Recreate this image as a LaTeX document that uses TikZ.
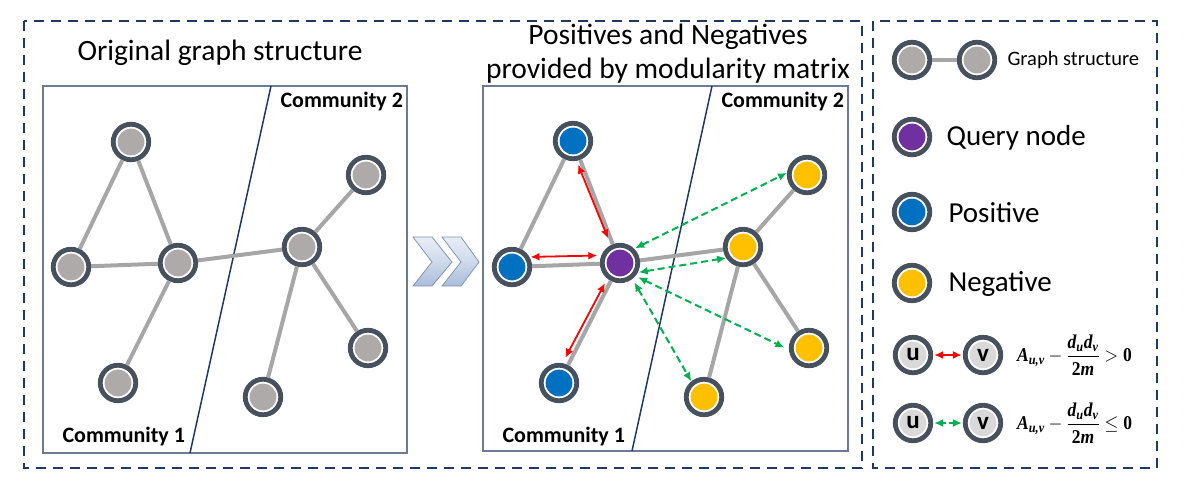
\documentclass[tikz,border=0pt]{standalone}
\usepackage{amsmath}
\usepackage{fontspec}
\setmainfont{Carlito}
\newfontfamily\fmlfont{Liberation Serif}
\usetikzlibrary{arrows.meta,calc}
\definecolor{ring}{HTML}{46515D}
\definecolor{gfill}{HTML}{AEAAAA}
\definecolor{bfill}{HTML}{0070C0}
\definecolor{pfill}{HTML}{7030A0}
\definecolor{yfill}{HTML}{FFC000}
\definecolor{ufill}{HTML}{D9D9D9}
\definecolor{edgec}{HTML}{A6A6A6}
\definecolor{navy}{HTML}{1F3864}
\definecolor{boxc}{HTML}{6B7B95}
\definecolor{redc}{HTML}{FF0000}
\definecolor{greenc}{HTML}{00B050}
\definecolor{chevA}{HTML}{E8EEF7}
\definecolor{chevB}{HTML}{A9BCD8}
\definecolor{chevL}{HTML}{7F96B8}
\newcommand{\fbi}[1]{\text{\fmlfont\bfseries\itshape #1}}
\newcommand{\fbu}[1]{\text{\fmlfont\bfseries #1}}
\newsavebox{\fposbox}
\newsavebox{\fnegbox}
\tikzset{
  gnode/.style={circle, draw=ring, line width=4.8pt, fill=white, inner sep=0pt,
    minimum size=35.5pt,
    path picture={\fill[#1] (path picture bounding box.center) circle (13.4pt);}},
  gnode/.default=gfill,
  unode/.style={circle, draw=ring, line width=4.8pt, fill=white, inner sep=0pt,
    minimum size=35.5pt, font=\fontsize{25}{25}\selectfont\bfseries,
    path picture={\fill[ufill] (path picture bounding box.center) circle (13.4pt);}},
  gedge/.style={draw=edgec, line width=4pt},
  dashbox/.style={draw=navy, line width=2.6pt, dash pattern=on 10pt off 7pt},
  innerbox/.style={draw=boxc, line width=1.4pt},
  divider/.style={draw=navy, line width=1.5pt},
  redarr/.style={draw=redc, line width=1.8pt, {Latex[length=9pt,width=8pt]}-{Latex[length=9pt,width=8pt]}},
  greenarr/.style={draw=greenc, line width=2pt, dash pattern=on 7pt off 4pt, {Latex[length=9pt,width=8pt]}-{Latex[length=9pt,width=8pt]}},
  titletext/.style={font=\fontsize{29.5}{34}\selectfont, align=center},
  comm/.style={font=\fontsize{22}{22}\selectfont\bfseries},
  legtext/.style={font=\fontsize{29}{29}\selectfont, anchor=west},
  fbox/.style={anchor=west, inner sep=0pt, xscale=1.03, yscale=1.15},
  chev/.style={draw=chevL, line width=0.8pt, top color=chevA, bottom color=chevB, middle color=chevA!60!chevB},
}
\begin{document}
\sbox{\fposbox}{\fontsize{17}{20}\selectfont$\displaystyle \fbi{A}_{\fbi{u,v}}-\frac{\fbi{d}_{\fbi{u}}\fbi{d}_{\fbi{v}}}{\fbu{2}\fbi{m}}>\fbu{0}$}%
\sbox{\fnegbox}{\fontsize{17}{20}\selectfont$\displaystyle \fbi{A}_{\fbi{u,v}}-\frac{\fbi{d}_{\fbi{u}}\fbi{d}_{\fbi{v}}}{\fbu{2}\fbi{m}}\leq\fbu{0}$}%
\begin{tikzpicture}[x=1pt,y=-1pt]
\useasboundingbox (0,0) rectangle (1190,486);
% dashed frames
\draw[dashbox] (24,21) rectangle (862,468);
\draw[dashbox] (873,21) rectangle (1157,468);
% titles
\node[titletext] (t1) at (220,53) {Original graph structure};
\node[titletext] (t2) at (668,54) {Positives and Negatives\\provided by modularity matrix};
% inner boxes
\draw[innerbox] (43,86) rectangle (407,453);
\draw[innerbox] (483,86) rectangle (848,451);
\coordinate (d1a) at (271,86);
\coordinate (d1b) at (190,453);
\coordinate (d2a) at (712,86);
\coordinate (d2b) at (632,451);
\draw[divider] (d1a) -- (d1b);
\draw[divider] (d2a) -- (d2b);
\node[comm, anchor=base west] (c12) at (277,108) {Community 2};
\node[comm, anchor=base west] (c11) at (59,442) {Community 1};
\node[comm, anchor=base west] (c22) at (718,108) {Community 2};
\node[comm, anchor=base west] (c21) at (499,442) {Community 1};
% left graph
\node[gnode] (a1) at (131,142) {};
\node[gnode] (a2) at (71,267) {};
\node[gnode] (a3) at (178,263) {};
\node[gnode] (a4) at (118,383) {};
\node[gnode] (a5) at (302,247) {};
\node[gnode] (a6) at (366,175) {};
\node[gnode] (a7) at (368,348) {};
\node[gnode] (a8) at (263,397) {};
% right graph
\node[gnode=bfill] (b1) at (573,141) {};
\node[gnode=bfill] (b2) at (512,267) {};
\node[gnode=pfill] (q) at (620,263) {};
\node[gnode=bfill] (b4) at (559,383) {};
\node[gnode=yfill] (y1) at (743,247) {};
\node[gnode=yfill] (y2) at (807,175) {};
\node[gnode=yfill] (y3) at (809,348) {};
\node[gnode=yfill] (y4) at (704,397) {};
% edges
\foreach \ea/\eb in {a1/a2,a1/a3,a2/a3,a3/a4,a3/a5,a5/a6,a5/a7,a5/a8,
                   b1/b2,b1/q,b2/q,q/b4,q/y1,y1/y2,y1/y3,y1/y4}
  \draw[gedge] (\ea) -- (\eb);
% red arrows
\draw[redarr, shorten <=4pt, shorten >=7pt] (b1.-80) -- (q.117);
\draw[redarr, shorten <=1pt, shorten >=4pt] (b2.30) -- (q.158);
\draw[redarr, shorten <=6pt, shorten >=5pt] (b4.80) -- (q.231);
% green arrows
\draw[greenarr, shorten <=1pt, shorten >=0pt] (q.45) -- (y2.174);
\draw[greenarr, shorten <=1pt, shorten >=0pt] (q.-28) -- (y1.213);
\draw[greenarr, shorten <=3pt, shorten >=5pt] (q.-40) -- (y3.185);
\draw[greenarr, shorten <=4pt, shorten >=0pt] (q.-52) -- (y4.129);
% chevrons
\draw[chev] (413,237) -- (432,237) -- (452,262) -- (432,286) -- (413,286) -- (432,262) -- cycle;
\draw[chev] (442,237) -- (461,237) -- (479,262) -- (461,286) -- (442,286) -- (461,262) -- cycle;
% legend
\node[gnode] (L1) at (912,60) {};
\node[gnode] (L2) at (977,60) {};
\draw[gedge] (L1) -- (L2);
\node[font=\fontsize{20.5}{20.5}\selectfont, anchor=west] (Lt) at (1004,60) {Graph structure};
\node[gnode=pfill] (Lq) at (912,137) {};
\node[legtext] (Lqt) at (943,138) {Query node};
\node[gnode=bfill] (Lp) at (912,212) {};
\node[legtext] (Lpt) at (945,213) {Positive};
\node[gnode=yfill] (Ln) at (912,283) {};
\node[legtext] (Lnt) at (945,284) {Negative};
\node[unode] (u1) at (913,355) {u};
\node[unode] (v1) at (983,355) {v};
\draw[redarr, shorten <=1pt, shorten >=1pt] (u1) -- (v1);
\node[unode] (u2) at (913,423) {u};
\node[unode] (v2) at (983,423) {v};
\draw[greenarr, dash pattern=on 4pt off 3pt, shorten <=1pt, shorten >=1pt] (u2) -- (v2);
\node[fbox] (f1) at (1017,355) {\usebox{\fposbox}};
\node[fbox] (f2) at (1017,423) {\usebox{\fnegbox}};
\end{tikzpicture}
\end{document}
